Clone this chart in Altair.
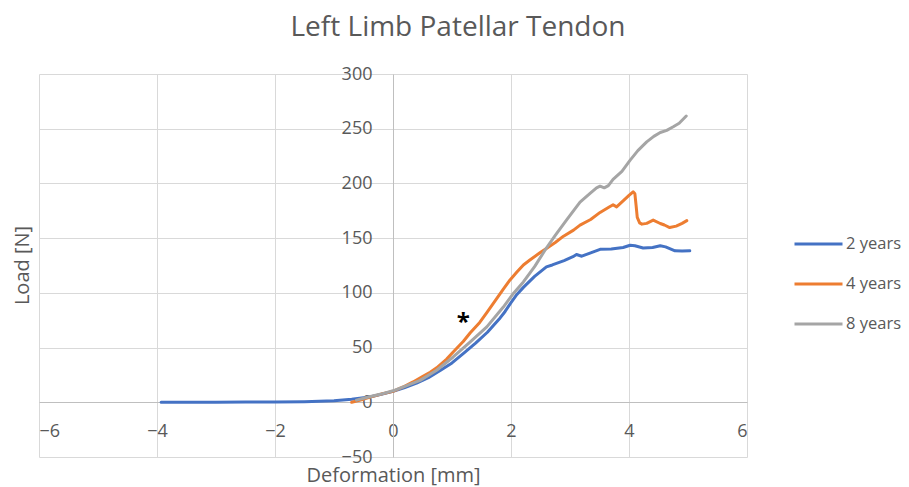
import altair as alt
import pandas as pd

series_names = ["2 years", "4 years", "8 years"]
series_colors = ["#4472C4", "#ED7D31", "#A5A5A5"]

x_2y = [-3.93, -3.5, -3.0, -2.5, -2.0, -1.5, -1.0, -0.7, -0.4, -0.2, 0.0, 0.2, 0.4, 0.6,
        0.8, 1.0, 1.2, 1.4, 1.6, 1.8, 1.9, 2.0, 2.1, 2.21, 2.4, 2.6, 2.7, 2.9, 3.05, 3.11,
        3.2, 3.35, 3.51, 3.7, 3.9, 4.02, 4.1, 4.24, 4.4, 4.53, 4.62, 4.78, 4.9, 5.03]
y_2y = [0, 0, 0.1, 0.2, 0.3, 0.6, 1.3, 2.8, 4.8, 7.2, 10, 13.5, 17.5, 22.5,
        29, 36, 45, 54, 64, 76, 83, 91, 98.5, 105, 115, 123.8, 125.5, 129.5, 133, 135,
        133.5, 136.5, 139.8, 140, 141.5, 143.5, 143, 141, 141.5, 143, 142, 138.4, 138.2, 138.4]

x_4y = [-0.7, -0.55, -0.4, -0.2, 0.0, 0.17, 0.34, 0.5, 0.63, 0.74, 0.91, 1.02, 1.19, 1.31,
        1.47, 1.59, 1.76, 1.87, 1.98, 2.1, 2.21, 2.32, 2.49, 2.6, 2.75, 2.89, 3.06, 3.17,
        3.35, 3.51, 3.65, 3.73, 3.79, 3.9, 4.0, 4.07, 4.1, 4.12, 4.14, 4.18, 4.22, 4.3,
        4.41, 4.53, 4.6, 4.69, 4.8, 4.9, 4.98]
y_4y = [0, 2, 4.5, 7.5, 10, 14, 18.6, 23.5, 27.5, 31.5, 39.5, 46, 55.5, 63.5,
        73, 82, 95, 103.5, 111.6, 119, 125.5, 130, 136.6, 140.6, 146, 151.8, 157.3, 161.9,
        167, 173.5, 178, 180.5, 178.6, 184, 189, 192.3, 190.5, 180, 169, 164, 162.8, 163.5,
        166.5, 163.4, 162, 159.7, 161, 163.5, 166]

x_8y = [-0.62, -0.4, -0.2, 0.0, 0.2, 0.46, 0.74, 1.02, 1.31, 1.59, 1.87, 2.04, 2.21, 2.4,
        2.6, 2.75, 2.94, 3.17, 3.34, 3.45, 3.51, 3.58, 3.65, 3.73, 3.88, 4.02, 4.15, 4.3,
        4.42, 4.53, 4.64, 4.75, 4.85, 4.97]
y_8y = [2, 5, 7.5, 10.5, 14.5, 20, 29.3, 41.4, 55.2, 68.9, 87, 99.5, 110, 124,
        141, 152.5, 166.5, 183, 191, 196, 197.5, 196, 198, 203.7, 211, 221.3, 230, 238,
        243, 246.5, 248.5, 251.8, 255, 261.6]

x_ticks = [-6, -4, -2, 0, 2, 4, 6]
y_ticks = [-50, 0, 50, 100, 150, 200, 250, 300]

note_x = [1.19]
note_y = [77]
note_text = ["*"]

rows = []
for name, xs, ys in zip(series_names, [x_2y, x_4y, x_8y], [y_2y, y_4y, y_8y]):
    for i, (a, b) in enumerate(zip(xs, ys)):
        rows.append({"series": name, "x": a, "y": b, "order": i})
df = pd.DataFrame(rows)
notes = pd.DataFrame({"x": note_x, "y": note_y, "t": note_text})

FONT = "Open Sans"
TXT = "#595959"

x_enc = alt.X(
    "x:Q",
    scale=alt.Scale(domain=[-6, 6], nice=False, zero=False),
    axis=alt.Axis(
        values=x_ticks, grid=True, gridColor="#D9D9D9", gridWidth=1,
        domainColor="#BFBFBF", domainWidth=1, ticks=False, tickSize=0,
        offset=-55, labelPadding=20, labelFontSize=18, labelFont=FONT, labelColor=TXT,
        title="Deformation [mm]", titleFont=FONT, titleFontSize=20, titleFontWeight="normal",
        titleColor=TXT, titleY=79, titleBaseline="alphabetic",
    ),
)
y_enc = alt.Y(
    "y:Q",
    scale=alt.Scale(domain=[-50, 300], nice=False, zero=False),
    axis=alt.Axis(
        values=y_ticks, grid=True, gridColor="#D9D9D9", gridWidth=1,
        domainColor="#BFBFBF", domainWidth=1, ticks=False, tickSize=0,
        offset=-354, labelPadding=21, labelFontSize=18, labelFont=FONT, labelColor=TXT,
        title="Load [N]", titleFont=FONT, titleFontSize=20, titleFontWeight="normal",
        titleColor=TXT, titleX=-371, titleY=191, titleBaseline="middle", titleAngle=270,
        titleAlign="center",
    ),
)

lines = alt.Chart(df).mark_line(strokeWidth=3, strokeCap="round", strokeJoin="round").encode(
    x=x_enc,
    y=y_enc,
    color=alt.Color(
        "series:N",
        scale=alt.Scale(domain=series_names, range=series_colors),
        legend=alt.Legend(
            title=None, orient="none", legendX=754, legendY=150,
            symbolType="stroke", symbolSize=2304, symbolStrokeWidth=3,
            labelFontSize=16.5, labelFont=FONT, labelColor=TXT, labelOffset=2,
            clipHeight=40, rowPadding=0,
        ),
    ),
    order="order:Q",
)

star = alt.Chart(notes).mark_text(
    fontSize=24, fontWeight="bold", color="black", baseline="middle", font=FONT, dy=5
).encode(x=x_enc, y=y_enc, text="t:N")

chart = alt.layer(lines, star).properties(
    width=708,
    height=383,
    autosize=alt.AutoSizeParams(type="none"),
    padding={"left": 31, "top": 66, "right": 154, "bottom": 30},
    title=alt.TitleParams(
        "Left Limb Patellar Tendon", font=FONT, fontSize=28, fontWeight="normal",
        color=TXT, anchor="middle", dx=65, dy=-19,
    ),
).configure_view(strokeWidth=0)

chart.save("out.html", embed_options={"renderer": "svg", "actions": False})
